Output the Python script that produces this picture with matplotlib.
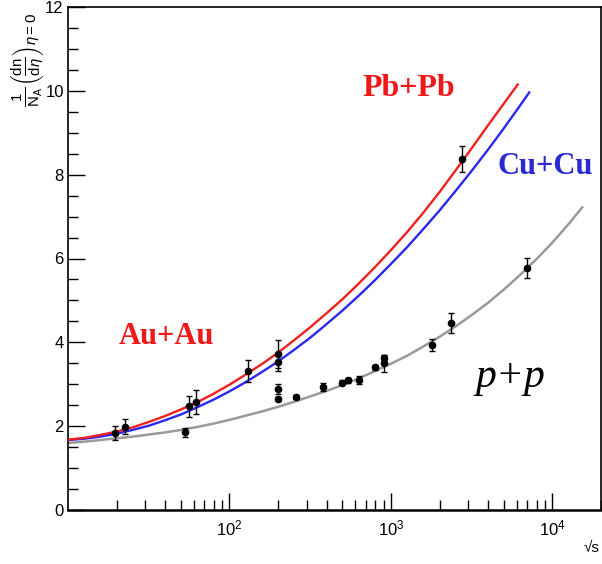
import matplotlib
matplotlib.use("Agg")
import matplotlib.pyplot as plt
from matplotlib.ticker import FixedLocator, LogLocator, NullFormatter, LogFormatterSciNotation

plt.rcParams['font.family'] = ['Liberation Sans', 'DejaVu Sans']
plt.rcParams['mathtext.fontset'] = 'custom'
plt.rcParams['mathtext.rm'] = 'Liberation Sans'
plt.rcParams['mathtext.it'] = 'Liberation Sans:italic'
plt.rcParams['mathtext.bf'] = 'Liberation Sans:bold'

# Nucleus-nucleus fit curve (Pb+Pb / Au+Au)
aa_heavy_sqrt_s = [10, 12.59, 15.85, 19.95, 25.12, 31.62, 39.81, 50.12, 63.10,
                   79.43, 100, 125.9, 158.5, 199.5, 251.2, 316.2, 398.1, 501.2,
                   631.0, 794.3, 1000, 1259, 1585, 1995, 2512, 3162, 3981, 5012, 6100]
aa_heavy_curve = [1.68, 1.72, 1.79, 1.87, 1.97, 2.10, 2.24, 2.40, 2.57, 2.77,
                  2.99, 3.23, 3.48, 3.75, 4.05, 4.36, 4.69, 5.03, 5.40, 5.79,
                  6.20, 6.63, 7.09, 7.58, 8.10, 8.63, 9.17, 9.70, 10.15]

# Cu+Cu fit curve
cucu_sqrt_s = [10, 12.59, 15.85, 19.95, 25.12, 31.62, 39.81, 50.12, 63.10,
               79.43, 100, 125.9, 158.5, 199.5, 251.2, 316.2, 398.1, 501.2,
               631.0, 794.3, 1000, 1259, 1585, 1995, 2512, 3162, 3981, 5012,
               6310, 7180]
cucu_curve = [1.67, 1.70, 1.75, 1.82, 1.91, 2.01, 2.14, 2.28, 2.45, 2.63,
              2.83, 3.05, 3.29, 3.54, 3.82, 4.11, 4.43, 4.76, 5.11, 5.48,
              5.87, 6.27, 6.70, 7.14, 7.61, 8.09, 8.59, 9.11, 9.65, 9.96]

# p+p fit curve
pp_curve_sqrt_s = [10, 12.59, 15.85, 19.95, 25.12, 31.62, 39.81, 50.12, 63.10,
                   79.43, 100, 125.9, 158.5, 199.5, 251.2, 316.2, 398.1, 501.2,
                   631.0, 794.3, 1000, 1259, 1585, 1995, 2512, 3162, 3981, 5012,
                   6310, 7943, 10000, 12589, 15300]
pp_curve = [1.60, 1.63, 1.67, 1.71, 1.75, 1.80, 1.85, 1.91, 1.98, 2.06,
            2.15, 2.25, 2.35, 2.46, 2.58, 2.71, 2.84, 2.98, 3.14, 3.31,
            3.49, 3.68, 3.90, 4.13, 4.38, 4.65, 4.94, 5.26, 5.61, 5.98,
            6.38, 6.82, 7.22]

# Measured points, nucleus-nucleus
aa_sqrt_s = [19.6, 22.4, 56, 62.4, 130, 200, 200, 2760]
aa_val = [1.83, 1.99, 2.47, 2.58, 3.32, 3.72, 3.52, 8.38]
aa_err = [0.17, 0.17, 0.24, 0.28, 0.26, 0.34, 0.20, 0.31]

# Measured points, p+p
pp_sqrt_s = [53, 200, 200, 260, 380, 500, 546, 630, 800, 900, 900, 1800, 2360, 7000]
pp_val = [1.85, 2.88, 2.64, 2.69, 2.93, 3.04, 3.09, 3.10, 3.41, 3.50, 3.62, 3.94, 4.46, 5.78]
pp_err = [0.10, 0.12, 0.05, 0.05, 0.09, 0.05, 0.05, 0.10, 0.06, 0.20, 0.08, 0.15, 0.24, 0.24]

x_major = [1e2, 1e3, 1e4]
y_major = [0, 2, 4, 6, 8, 10, 12]

W, H = 602, 564
fig = plt.figure(figsize=(W / 100, H / 100), dpi=100)
ax = fig.add_axes([68 / W, 1 - 510 / H, (601 - 68) / W, (510 - 7) / H])

ax.plot(pp_curve_sqrt_s, pp_curve, color='#9a9a9a', lw=1.8, zorder=2)
ax.plot(cucu_sqrt_s, cucu_curve, color='#2828f0', lw=1.7, zorder=3)
ax.plot(aa_heavy_sqrt_s, aa_heavy_curve, color='#f02020', lw=1.7, zorder=3)

err_kw = dict(fmt='o', color='black', ms=4.5, elinewidth=1.0, capsize=2,
              capthick=1.0, zorder=4)
ax.errorbar(pp_sqrt_s, pp_val, yerr=pp_err, **err_kw)
ax.errorbar(aa_sqrt_s, aa_val, yerr=aa_err, **err_kw)

ax.set_xscale('log')
ax.set_xlim(10, 2e4)
ax.set_ylim(0, 12)

ax.xaxis.set_major_locator(FixedLocator(x_major))
ax.xaxis.set_major_formatter(LogFormatterSciNotation())
ax.xaxis.set_minor_locator(LogLocator(base=10, subs=range(2, 10), numticks=10))
ax.xaxis.set_minor_formatter(NullFormatter())
ax.yaxis.set_major_locator(FixedLocator(y_major))
ax.yaxis.set_minor_locator(FixedLocator([v + 0.5 * k for v in y_major[:-1] for k in (1, 2, 3)]))

ax.tick_params(which='both', direction='in', top=False, right=False,
               labelsize=12, width=1.0, color='black')
ax.tick_params(which='major', length=12, pad=3)
ax.tick_params(which='minor', length=7)
ax.tick_params(axis='x', which='major', pad=6)
for s in ax.spines.values():
    s.set_linewidth(1.2)
ax.spines['bottom'].set_linewidth(1.8)

# axis titles
fig.text(28 / W, 1 - 60 / H,
         r'$\frac{1}{\mathrm{N_A}}\left(\frac{\mathrm{dn}}{\mathrm{d}\eta}\right)_{\eta=0}$',
         rotation=90, ha='center', va='center', fontsize=15.5)
fig.text(600 / W, 1 - 548 / H, '√s', ha='right', va='center', fontsize=11)

# system labels
serif = ['Liberation Serif', 'DejaVu Serif']
fig.text(409 / W, 1 - 88 / H, 'Pb+Pb', color='#f01818', fontsize=23,
         fontweight='bold', family=serif, ha='center', va='center')
fig.text(545 / W, 1 - 166 / H, 'Cu+Cu', color='#2a2ad0', fontsize=22,
         fontweight='bold', family=serif, ha='center', va='center')
fig.text(166 / W, 1 - 337 / H, 'Au+Au', color='#f01818', fontsize=22,
         fontweight='bold', family=serif, ha='center', va='center')
fig.text(510 / W, 1 - 377 / H, 'p+p', color='black', fontsize=30,
         style='italic', family=serif, ha='center', va='center')

fig.savefig('out.png', dpi=100)
